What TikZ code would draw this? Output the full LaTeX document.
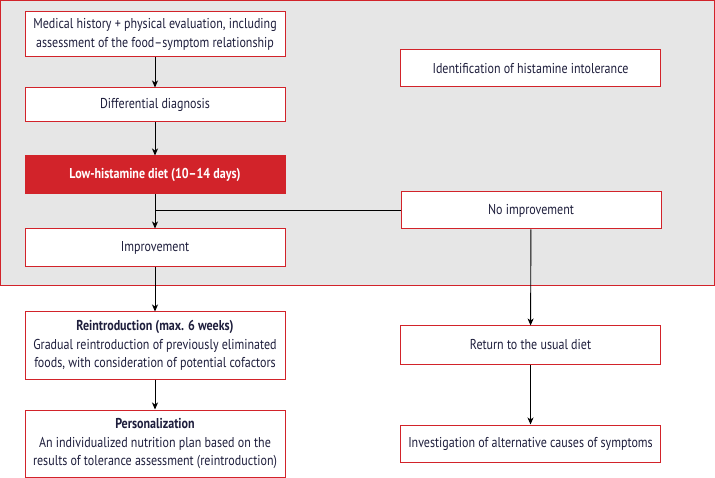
\documentclass[tikz,border=0pt]{standalone}
\usepackage{fontspec}
\setmainfont[FakeStretch=0.84]{PT Sans}
\usetikzlibrary{arrows.meta}
\definecolor{boxred}{HTML}{D2232A}
\definecolor{bggray}{HTML}{E6E6E6}
\definecolor{txt}{HTML}{1E1E3C}
\tikzset{
  box/.style={draw=boxred, line width=1pt, fill=white, minimum width=260pt, inner sep=0pt,
    align=center, text=txt, font=\fontsize{14.3}{18.5}\selectfont},
  redbox/.style={box, fill=boxred, text=white, font=\fontsize{14.3}{18.5}\selectfont\bfseries},
  conn/.style={draw=black, line width=0.9pt},
  arr/.style={conn, -{Stealth[length=7pt,width=6pt,inset=2pt]}},
}
\begin{document}
\begin{tikzpicture}[x=1pt,y=-1pt]
\useasboundingbox (0,0) rectangle (715,478);
\draw[draw=boxred, fill=bggray, line width=1pt] (0.5,0.5) rectangle (714,286);
\node[box, minimum height=45pt] (hist) at (155,34.5) {Medical history + physical evaluation, including\\assessment of the food--symptom relationship};
\node[box, minimum height=34pt] (diff) at (155,105) {Differential diagnosis};
\node[redbox, minimum height=38pt] (diet) at (155,175) {Low-histamine diet (10--14 days)};
\node[box, minimum height=38pt] (imp) at (155,248) {Improvement};
\node[box, minimum height=37pt] (ident) at (530.5,68.5) {Identification of histamine intolerance};
\node[box, minimum height=37pt] (noimp) at (531,210.5) {No improvement};
\node[box, minimum height=67pt] (reint) at (155,345.5) {\textbf{Reintroduction (max. 6 weeks)}\\Gradual reintroduction of previously eliminated\\foods, with consideration of potential cofactors};
\node[box, minimum height=67pt] (pers) at (155,443.5) {\textbf{Personalization}\\An individualized nutrition plan based on the\\results of tolerance assessment (reintroduction)};
\node[box, minimum height=38pt] (ret) at (530.5,345) {Return to the usual diet};
\node[box, minimum height=37pt] (inv) at (530.5,443.5) {Investigation of alternative causes of symptoms};
\coordinate (j) at (diet.south |- noimp.west);
\draw[arr] (hist) -- (diff);
\draw[arr] (diff) -- (diet);
\draw[arr] (diet) -- (imp);
\draw[conn] (noimp.west) -- (j);
\draw[arr] (imp) -- (reint);
\draw[arr] (reint) -- (pers);
\draw[arr] (noimp) -- (ret);
\draw[arr] (ret) -- (inv);
\end{tikzpicture}
\end{document}
